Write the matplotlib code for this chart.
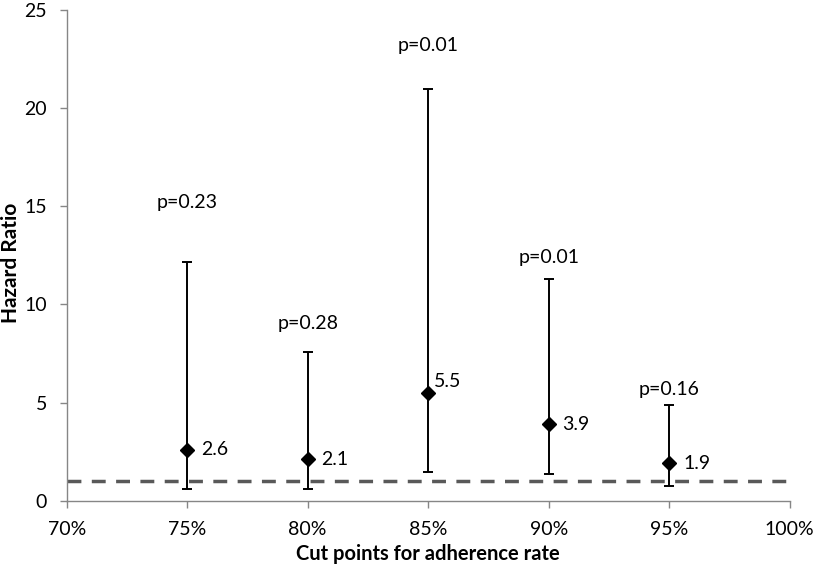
import matplotlib
matplotlib.use("Agg")
import matplotlib.pyplot as plt
from matplotlib.ticker import FuncFormatter

cut_points = [75, 80, 85, 90, 95]
hazard_ratio = [2.6, 2.1, 5.5, 3.9, 1.9]
ci_lower = [0.57, 0.57, 1.47, 1.34, 0.77]
ci_upper = [12.17, 7.57, 20.97, 11.29, 4.87]
p_labels = ["p=0.23", "p=0.28", "p=0.01", "p=0.01", "p=0.16"]
p_label_y = [15.2, 9.0, 23.2, 12.4, 5.65]
x_ticks = [70, 75, 80, 85, 90, 95, 100]
y_ticks = [0, 5, 10, 15, 20, 25]
reference_hr = 1

plt.rcParams['font.family'] = ['Lato', 'DejaVu Sans']

fig = plt.figure(figsize=(8.17, 5.67), dpi=100)
ax = fig.add_axes([0.0816, 0.1170, 0.885, 0.8655])

ax.axhline(reference_hr, color='#595959', lw=2.5, dashes=(4, 3), zorder=1)

yerr = [[h - l for h, l in zip(hazard_ratio, ci_lower)],
        [u - h for h, u in zip(hazard_ratio, ci_upper)]]
ax.errorbar(cut_points, hazard_ratio, yerr=yerr, fmt='D', color='black',
            markersize=7.5, ecolor='black', elinewidth=1.4, capsize=3.5,
            capthick=1.4, zorder=3)

for x, h, p, py in zip(cut_points, hazard_ratio, p_labels, p_label_y):
    ax.text(x, py, p, ha='center', va='center', fontsize=14)
    if h == 5.5:
        ax.annotate(f"{h}", (x, h), xytext=(4, 8), textcoords='offset points',
                    ha='left', va='center', fontsize=14)
    else:
        ax.annotate(f"{h}", (x, h), xytext=(10, 0), textcoords='offset points',
                    ha='left', va='center', fontsize=14)

ax.set_xlim(70, 100)
ax.set_ylim(0, 25)
ax.set_xticks(x_ticks)
ax.set_yticks(y_ticks)
ax.xaxis.set_major_formatter(FuncFormatter(lambda v, _: f"{int(v)}%"))

for s in ['top', 'right']:
    ax.spines[s].set_visible(False)
for s in ['left', 'bottom']:
    ax.spines[s].set_color('#868686')
    ax.spines[s].set_linewidth(1.0)
ax.tick_params(axis='both', colors='#868686', length=5, width=1.0,
               labelcolor='black', labelsize=14)
ax.tick_params(axis='x', pad=10)
ax.tick_params(axis='y', pad=9)

ax.set_xlabel("Cut points for adherence rate", fontsize=14.5, fontweight='bold', labelpad=4)
ax.set_ylabel("Hazard Ratio", fontsize=15, fontweight='bold', va='center')
ax.yaxis.set_label_coords(-0.077, 0.484)

fig.savefig("out.png", dpi=100)
